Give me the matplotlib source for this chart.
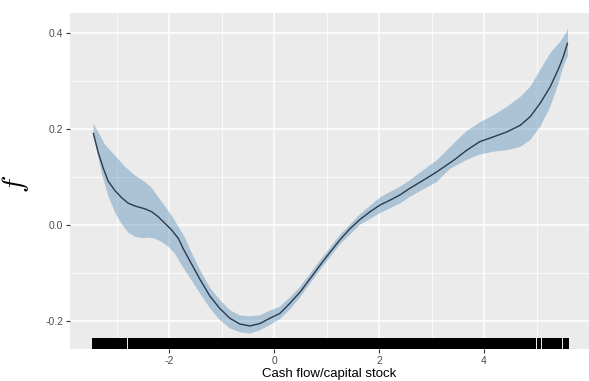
import matplotlib
matplotlib.use("Agg")
import matplotlib.pyplot as plt

plt.rcParams['font.family'] = ['Liberation Sans', 'DejaVu Sans']
plt.rcParams['mathtext.fontset'] = 'cm'

# smooth term f(x)
fit_x = [-3.44, -3.35, -3.25, -3.16, -3.03, -2.90, -2.78, -2.65, -2.46, -2.33,
         -2.20, -2.08, -1.95, -1.82, -1.73, -1.60, -1.41, -1.22, -1.03, -0.84,
         -0.65, -0.46, -0.27, -0.08, 0.11, 0.30, 0.50, 0.69, 0.88, 1.07,
         1.26, 1.45, 1.64, 1.83, 2.02, 2.21, 2.40, 2.59, 2.85, 3.10,
         3.42, 3.67, 3.92, 4.18, 4.43, 4.69, 4.88, 5.07, 5.26, 5.42,
         5.51, 5.59]
fit_y = [0.191, 0.152, 0.118, 0.092, 0.072, 0.057, 0.046, 0.040, 0.034, 0.028,
         0.017, 0.004, -0.010, -0.028, -0.049, -0.075, -0.113, -0.148, -0.174, -0.194,
         -0.206, -0.210, -0.205, -0.194, -0.184, -0.163, -0.139, -0.111, -0.083, -0.056,
         -0.030, -0.007, 0.012, 0.028, 0.042, 0.052, 0.063, 0.077, 0.094, 0.111,
         0.135, 0.156, 0.174, 0.184, 0.194, 0.208, 0.226, 0.254, 0.288, 0.326,
         0.351, 0.379]

# confidence band edges
up_x = [-3.44, -3.22, -3.03, -2.84, -2.65, -2.46, -2.33, -2.20, -2.08, -1.95,
        -1.82, -1.70, -1.60, -1.41, -1.22, -1.03, -0.84, -0.65, -0.46, -0.27,
        -0.08, 0.11, 0.30, 0.50, 0.88, 1.26, 1.64, 2.02, 2.40, 2.59,
        3.10, 3.42, 3.67, 3.92, 4.18, 4.43, 4.69, 4.88, 5.07, 5.26,
        5.45, 5.58, 5.60]
up_y = [0.212, 0.168, 0.145, 0.122, 0.104, 0.090, 0.078, 0.058, 0.040, 0.020,
        -0.003, -0.025, -0.050, -0.093, -0.130, -0.156, -0.177, -0.188, -0.190, -0.188,
        -0.178, -0.170, -0.151, -0.128, -0.073, -0.020, 0.023, 0.058, 0.080, 0.094,
        0.135, 0.170, 0.196, 0.214, 0.229, 0.246, 0.267, 0.288, 0.323, 0.358,
        0.382, 0.403, 0.410]
lo_x = [-3.44, -3.38, -3.28, -3.16, -3.03, -2.90, -2.78, -2.65, -2.52, -2.39,
        -2.27, -2.14, -2.01, -1.89, -1.79, -1.60, -1.41, -1.22, -1.03, -0.84,
        -0.65, -0.46, -0.27, -0.08, 0.11, 0.30, 0.50, 0.88, 1.26, 1.64,
        2.02, 2.40, 2.59, 3.10, 3.35, 3.67, 3.92, 4.18, 4.43, 4.69,
        4.88, 5.07, 5.26, 5.42, 5.51, 5.60]
lo_y = [0.185, 0.158, 0.108, 0.062, 0.027, 0.002, -0.015, -0.024, -0.027, -0.026,
        -0.028, -0.035, -0.045, -0.059, -0.078, -0.110, -0.142, -0.173, -0.198, -0.215,
        -0.223, -0.226, -0.219, -0.208, -0.196, -0.176, -0.150, -0.093, -0.040, 0.001,
        0.025, 0.045, 0.059, 0.090, 0.117, 0.136, 0.147, 0.153, 0.156, 0.163,
        0.177, 0.205, 0.246, 0.295, 0.330, 0.352]

# rug: covered stretches of the x axis (obs. are dense, gaps are thin)
rug_segments = [(-3.46, -2.935), (-2.925, -2.795), (-2.785, -2.405), (-2.395, -1.475),
                (-1.465, 3.955), (3.965, 4.905), (4.915, 4.995), (5.005, 5.095),
                (5.105, 5.405), (5.415, 5.495), (5.505, 5.62)]

x_ticks = [-2, 0, 2, 4]
y_ticks = [-0.2, 0.0, 0.2, 0.4]

fig = plt.figure(figsize=(5.89, 3.81), dpi=100)
ax = fig.add_axes([70 / 589, 1 - 349 / 381, 519 / 589, 336 / 381])
ax.set_facecolor('#EBEBEB')

ax.set_xlim(-3.886, 6.0)
ax.set_ylim(-0.258, 0.442)

ax.set_xticks(x_ticks)
ax.set_xticklabels([str(t) for t in x_ticks])
ax.set_yticks(y_ticks)
ax.set_yticklabels(['%.1f' % t for t in y_ticks])
ax.set_xticks([-3, -1, 1, 3, 5], minor=True)
ax.set_yticks([-0.1, 0.1, 0.3], minor=True)

ax.grid(which='major', color='white', linewidth=1.1)
ax.grid(which='minor', color='white', linewidth=0.55)
ax.set_axisbelow(True)
for s in ax.spines.values():
    s.set_visible(False)
ax.tick_params(which='major', length=3, width=0.8, color='#333333',
               labelsize=7.5, labelcolor='#4D4D4D', pad=2)
ax.tick_params(which='minor', length=0)

band_x = up_x + lo_x[::-1]
band_y = up_y + lo_y[::-1]
ax.fill(band_x, band_y, color='#4682B4', alpha=0.38, linewidth=0)
ax.plot(fit_x, fit_y, color='#2B3A4C', linewidth=1.0)

for a, b in rug_segments:
    ax.axvspan(a, b, ymin=0, ymax=0.032, color='black', linewidth=0)

ax.set_xlabel('Cash flow/capital stock', fontsize=9.5, labelpad=1.5)
ax.set_ylabel('$f$', fontsize=21, rotation=90)
ax.yaxis.set_label_coords(-0.075, 0.49)

fig.savefig('out.png', dpi=100)
